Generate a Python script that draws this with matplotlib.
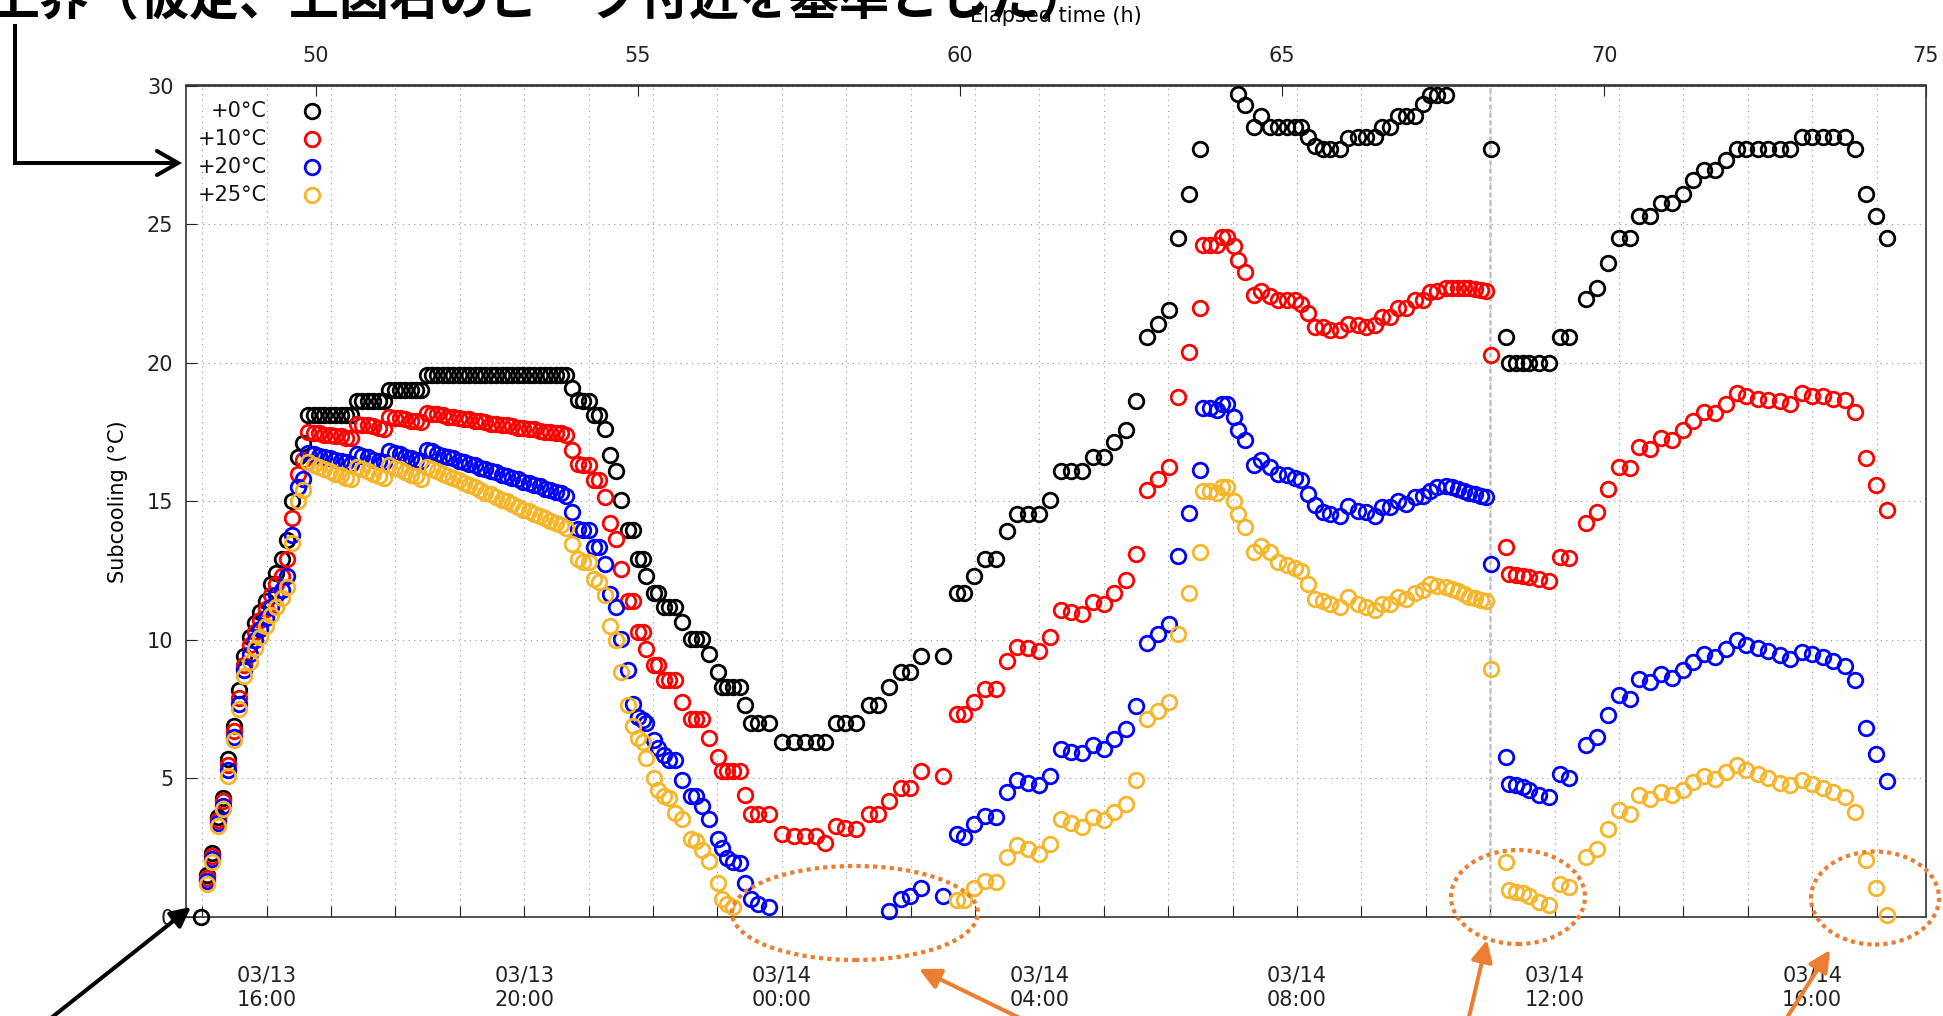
#!/usr/bin/env python3
"""Subcooling vs elapsed time for four temperature offsets (+0/+10/+20/+25 C)."""
import numpy as np
import matplotlib
matplotlib.use("Agg")
import matplotlib.pyplot as plt
from matplotlib.lines import Line2D
from matplotlib.patches import Ellipse, FancyArrowPatch

plt.rcParams["font.family"] = ["DejaVu Sans", "Noto Sans CJK JP"]

W_PX, H_PX, DPI = 1943, 1016, 100

# ---- data -------------------------------------------------------------
# elapsed hours since 03/11 14:46
TIME_H = [
    # ramp
    48.21, 48.30, 48.38, 48.47, 48.55, 48.63, 48.72, 48.80, 48.88, 48.97,
    49.05, 49.13, 49.22, 49.30, 49.38, 49.47, 49.55, 49.63, 49.72, 49.80,
    # plateaus
    49.88, 49.97, 50.05, 50.13, 50.22, 50.30, 50.38, 50.47, 50.55,
    50.63, 50.72, 50.80, 50.88, 50.97, 51.05,
    51.13, 51.22, 51.30, 51.38, 51.47, 51.55, 51.63,
    51.72, 51.80, 51.88, 51.97, 52.05, 52.13, 52.22, 52.30, 52.38, 52.47,
    52.55, 52.63, 52.72, 52.80, 52.88, 52.97, 53.05, 53.13, 53.22, 53.30,
    53.38, 53.47, 53.55, 53.63, 53.72, 53.80, 53.88,
    # decline
    53.97, 54.07, 54.15, 54.24, 54.32, 54.40, 54.49, 54.57, 54.65, 54.74,
    54.84, 54.92, 55.00, 55.07, 55.13, 55.24, 55.31, 55.41, 55.48, 55.58,
    55.69, 55.82, 55.90, 56.00, 56.10, 56.24, 56.31, 56.38, 56.48, 56.59,
    56.66, 56.76, 56.86, 57.04,
    # minimum
    57.24, 57.42, 57.59, 57.76, 57.90, 58.07, 58.21, 58.39, 58.59, 58.73,
    58.90, 59.08, 59.22, 59.39, 59.74,
    # recovery
    59.96, 60.06, 60.22, 60.39, 60.56, 60.73, 60.89, 61.05, 61.22, 61.40,
    61.56, 61.72, 61.89, 62.06, 62.23, 62.39, 62.57, 62.74, 62.90, 63.07,
    63.24, 63.39, 63.56, 63.73,
    # peak
    63.78, 63.88, 63.99, 64.07, 64.14, 64.25, 64.32, 64.43, 64.56, 64.68,
    64.81, 64.94, 65.07, 65.20, 65.30, 65.41, 65.51, 65.64, 65.74, 65.90,
    66.03, 66.18, 66.31, 66.44, 66.55, 66.67, 66.80, 66.93, 67.06, 67.19,
    67.30, 67.40, 67.55, 67.64, 67.73, 67.82, 67.91, 68.00, 68.09, 68.17,
    68.25,
    # after 03/14 11:00
    68.48, 68.53, 68.63, 68.74, 68.84, 68.99, 69.14, 69.31, 69.46, 69.72,
    69.89, 70.06, 70.23, 70.40, 70.55, 70.72, 70.89, 71.05, 71.23, 71.38,
    71.56, 71.73, 71.90, 72.06, 72.21, 72.39, 72.55, 72.73, 72.89, 73.07,
    73.23, 73.40, 73.56, 73.74, 73.90, 74.07, 74.23, 74.40,
]

SUB_0C = [
    0.0, 1.5, 2.3, 3.6, 4.3, 5.7, 6.9, 8.2, 9.4, 10.1,
    10.6, 11.0, 11.4, 12.0, 12.4, 12.9, 13.6, 15.0, 16.6, 17.1,
    18.1, 18.1, 18.1, 18.1, 18.1, 18.1, 18.1, 18.1, 18.1,
    18.6, 18.6, 18.6, 18.6, 18.6, 18.6,
    19.0, 19.0, 19.0, 19.0, 19.0, 19.0, 19.0,
    19.55, 19.55, 19.55, 19.55, 19.55, 19.55, 19.55, 19.55, 19.55, 19.55,
    19.55, 19.55, 19.55, 19.55, 19.55, 19.55, 19.55, 19.55, 19.55, 19.55,
    19.55, 19.55, 19.55, 19.55, 19.55, 19.55, 19.55,
    19.07, 18.65, 18.6, 18.6, 18.1, 18.1, 17.6, 16.66, 16.1, 15.04,
    13.95, 13.95, 12.93, 12.93, 12.3, 11.7, 11.7, 11.17, 11.17, 11.17,
    10.63, 10.04, 10.04, 10.04, 9.5, 8.84, 8.3, 8.3, 8.3, 8.3,
    7.64, 7.0, 7.0, 7.0,
    6.33, 6.33, 6.33, 6.33, 6.33, 6.99, 6.99, 6.99, 7.64, 7.64,
    8.3, 8.84, 8.84, 9.4, 9.4,
    11.7, 11.7, 12.3, 12.9, 12.9, 13.94, 14.54, 14.54, 14.54, 15.04,
    16.1, 16.1, 16.1, 16.6, 16.6, 17.14, 17.56, 18.6, 20.93, 21.4,
    21.9, 24.5, 26.1, 27.7,
    None, None, None, None, None, None, 29.7, 29.3, 28.5, 28.9,
    28.5, 28.5, 28.5, 28.5, 28.5, 28.15, 27.8, 27.7, 27.7, 27.7,
    28.1, 28.15, 28.15, 28.15, 28.5, 28.5, 28.9, 28.9, 28.9, 29.35,
    29.66, 29.66, 29.66, None, None, None, None, None, None, None,
    27.7,
    20.93, 20.0, 20.0, 20.0, 20.0, 20.0, 20.0, 20.93, 20.93, 22.3,
    22.7, 23.6, 24.5, 24.5, 25.3, 25.3, 25.75, 25.75, 26.1, 26.6,
    26.95, 26.95, 27.3, 27.7, 27.7, 27.7, 27.7, 27.7, 27.7, 28.15,
    28.15, 28.15, 28.15, 28.15, 27.7, 26.1, 25.3, 24.5,
]

SUB_10C = [
    None, 1.4, 2.2, 3.5, 4.2, 5.5, 6.7, 7.9, 9.1, 9.8,
    10.3, 10.7, 11.1, 11.6, 12.0, 12.3, 12.9, 14.4, 16.0, 16.5,
    17.5, 17.45, 17.45, 17.4, 17.4, 17.35, 17.35, 17.3, 17.3,
    17.8, 17.75, 17.75, 17.7, 17.65, 17.6,
    18.05, 18.0, 18.0, 17.95, 17.9, 17.9, 17.85,
    18.2, 18.15, 18.15, 18.1, 18.05, 18.05, 18.0, 17.95, 17.95, 17.9,
    17.9, 17.85, 17.8, 17.8, 17.75, 17.75, 17.7, 17.65, 17.65, 17.6,
    17.6, 17.55, 17.5, 17.5, 17.45, 17.45, 17.4,
    16.84, 16.36, 16.3, 16.3, 15.76, 15.76, 15.16, 14.2, 13.65, 12.57,
    11.4, 11.4, 10.28, 10.28, 9.68, 9.08, 9.08, 8.54, 8.54, 8.54,
    7.76, 7.16, 7.16, 7.16, 6.45, 5.79, 5.25, 5.25, 5.25, 5.25,
    4.41, 3.7, 3.7, 3.7,
    2.98, 2.92, 2.92, 2.92, 2.68, 3.28, 3.22, 3.16, 3.7, 3.7,
    4.17, 4.65, 4.65, 5.25, 5.07,
    7.34, 7.34, 7.76, 8.24, 8.24, 9.25, 9.73, 9.7, 9.6, 10.1,
    11.06, 11.0, 10.94, 11.36, 11.3, 11.7, 12.16, 13.1, 15.42, 15.8,
    16.24, 18.77, 20.4, 21.96,
    24.24, 24.24, 24.24, 24.54, 24.54, 24.2, 23.7, 23.28, 22.44, 22.6,
    22.4, 22.26, 22.26, 22.26, 22.1, 21.78, 21.3, 21.3, 21.17, 21.17,
    21.4, 21.35, 21.3, 21.35, 21.65, 21.65, 21.96, 21.96, 22.26, 22.26,
    22.56, 22.6, 22.7, 22.7, 22.7, 22.68, 22.68, 22.65, 22.62, 22.6,
    20.27,
    13.34, 12.38, 12.35, 12.3, 12.25, 12.2, 12.14, 13.0, 12.96, 14.2,
    14.6, 15.44, 16.25, 16.2, 16.96, 16.9, 17.3, 17.2, 17.56, 17.9,
    18.23, 18.17, 18.5, 18.9, 18.8, 18.7, 18.65, 18.6, 18.5, 18.9,
    18.8, 18.8, 18.7, 18.65, 18.23, 16.55, 15.6, 14.7,
]

SUB_20C = [
    None, 1.3, 2.1, 3.4, 4.0, 5.3, 6.5, 7.7, 8.9, 9.5,
    10.0, 10.4, 10.8, 11.2, 11.6, 11.8, 12.3, 13.8, 15.5, 15.8,
    16.75, 16.7, 16.65, 16.6, 16.55, 16.5, 16.45, 16.4, 16.35,
    16.7, 16.65, 16.6, 16.5, 16.45, 16.4,
    16.8, 16.75, 16.7, 16.6, 16.55, 16.5, 16.45,
    16.85, 16.8, 16.7, 16.65, 16.6, 16.55, 16.45, 16.4, 16.35, 16.3,
    16.2, 16.15, 16.1, 16.05, 15.95, 15.9, 15.85, 15.8, 15.7, 15.65,
    15.6, 15.55, 15.45, 15.4, 15.35, 15.3, 15.2,
    14.6, 14.0, 13.95, 13.95, 13.35, 13.35, 12.75, 11.66, 11.18, 10.04,
    8.9, 7.7, 7.2, 7.1, 6.99, 6.39, 6.1, 5.85, 5.67, 5.67,
    4.95, 4.35, 4.35, 4.0, 3.52, 2.8, 2.5, 2.14, 2.0, 1.96,
    1.24, 0.65, 0.47, 0.35,
    None, None, None, None, None, None, None, None, None, None,
    0.23, 0.65, 0.77, 1.06, 0.77,
    3.0, 2.9, 3.34, 3.64, 3.6, 4.5, 4.93, 4.85, 4.76, 5.1,
    6.07, 5.95, 5.9, 6.2, 6.07, 6.43, 6.8, 7.63, 9.88, 10.2,
    10.58, 13.04, 14.58, 16.12,
    18.35, 18.35, 18.3, 18.5, 18.5, 18.05, 17.56, 17.2, 16.3, 16.48,
    16.25, 16.0, 15.95, 15.85, 15.75, 15.27, 14.85, 14.6, 14.55, 14.48,
    14.84, 14.66, 14.6, 14.48, 14.78, 14.78, 15.0, 14.9, 15.14, 15.2,
    15.38, 15.5, 15.55, 15.5, 15.45, 15.38, 15.3, 15.25, 15.2, 15.15,
    12.74,
    5.77, 4.8, 4.75, 4.7, 4.6, 4.4, 4.33, 5.17, 5.02, 6.19,
    6.49, 7.27, 8.0, 7.87, 8.6, 8.47, 8.77, 8.63, 8.9, 9.2,
    9.5, 9.37, 9.68, 9.98, 9.83, 9.7, 9.6, 9.45, 9.3, 9.55,
    9.5, 9.38, 9.25, 9.07, 8.56, 6.83, 5.87, 4.9,
]

SUB_25C = [
    None, 1.2, 2.0, 3.3, 3.9, 5.1, 6.4, 7.5, 8.7, 9.2,
    9.7, 10.1, 10.5, 10.9, 11.2, 11.5, 11.9, 13.5, 15.0, 15.4,
    16.4, 16.3, 16.25, 16.15, 16.1, 16.0, 15.95, 15.85, 15.8,
    16.25, 16.15, 16.1, 16.0, 15.9, 15.85,
    16.3, 16.2, 16.15, 16.05, 15.95, 15.9, 15.8,
    16.25, 16.15, 16.1, 16.0, 15.9, 15.85, 15.75, 15.65, 15.6, 15.5,
    15.4, 15.3, 15.25, 15.15, 15.05, 15.0, 14.9, 14.8, 14.7, 14.65,
    14.55, 14.45, 14.4, 14.3, 14.2, 14.15, 14.05,
    13.47, 12.93, 12.8, 12.8, 12.2, 12.1, 11.6, 10.5, 10.0, 8.84,
    7.64, 6.9, 6.45, 6.3, 5.73, 5.0, 4.6, 4.35, 4.3, 3.76,
    3.52, 2.8, 2.75, 2.4, 2.02, 1.24, 0.65, 0.47, 0.35, None,
    None, None, None, None,
    None, None, None, None, None, None, None, None, None, None,
    None, None, None, None, None,
    0.6, 0.6, 1.06, 1.3, 1.26, 2.16, 2.58, 2.45, 2.28, 2.64,
    3.55, 3.4, 3.25, 3.6, 3.49, 3.79, 4.09, 4.93, 7.15, 7.45,
    7.75, 10.22, 11.7, 13.16,
    15.38, 15.38, 15.3, 15.5, 15.5, 15.0, 14.54, 14.06, 13.16, 13.4,
    13.16, 12.8, 12.7, 12.6, 12.5, 12.0, 11.48, 11.4, 11.3, 11.18,
    11.54, 11.3, 11.18, 11.06, 11.3, 11.3, 11.54, 11.48, 11.7, 11.8,
    12.0, 11.95, 11.9, 11.85, 11.75, 11.65, 11.55, 11.5, 11.45, 11.4,
    8.95,
    1.98, 0.96, 0.9, 0.85, 0.75, 0.54, 0.42, 1.2, 1.08, 2.16,
    2.46, 3.18, 3.85, 3.73, 4.39, 4.27, 4.5, 4.39, 4.6, 4.87,
    5.1, 4.99, 5.23, 5.47, 5.3, 5.15, 5.0, 4.85, 4.75, 4.93,
    4.8, 4.65, 4.5, 4.33, 3.79, 2.04, 1.06, 0.06,
]

SERIES_LABELS = ["+0°C", "+10°C", "+20°C", "+25°C"]
COLORS = ["#000000", "#ff0000", "#0000ff", "#f7b52a"]

CLOCK0 = 49.233          # elapsed hours at 03/13 16:00
CLOCK_LABELS = ["03/13\n16:00", "03/13\n20:00", "03/14\n00:00", "03/14\n04:00",
                "03/14\n08:00", "03/14\n12:00", "03/14\n16:00"]
EVENT_T = 68.233         # 03/14 11:00
ELAPSED_TICKS = [50, 55, 60, 65, 70, 75]
Y_TICKS = [0, 5, 10, 15, 20, 25, 30]

NOTE_JA = "上界（仮定、上図右のピーク付近を基準とした）"
ORANGE = "#ED7D31"

MS, MEW = 10.5, 2.0


def P(x, y):
    """pixel (from top-left) -> figure fraction"""
    return x / W_PX, 1 - y / H_PX


def main():
    t = np.array(TIME_H, dtype=float)
    series = [np.array(s, dtype=float) for s in (SUB_0C, SUB_10C, SUB_20C, SUB_25C)]
    for s in series:
        assert len(s) == len(t), (len(s), len(t))

    fig = plt.figure(figsize=(W_PX / DPI, H_PX / DPI), dpi=DPI)
    fig.patch.set_facecolor("white")
    ax = fig.add_axes([186 / W_PX, 1 - 917 / H_PX, (1926 - 186) / W_PX, (917 - 85.5) / H_PX])

    ax.set_xlim(47.98, 75)
    ax.set_ylim(0, 30)

    # bottom axis: wall clock, a tick every hour, label every 4 h
    hours = [CLOCK0 - 1 + k for k in range(27)]
    labels = [""] * len(hours)
    for i, lab in enumerate(CLOCK_LABELS):
        labels[1 + 4 * i] = lab
    ax.set_xticks(hours)
    ax.set_xticklabels(labels, fontsize=15)
    for lab in ax.get_xticklabels():
        lab.set_linespacing(1.3)
    ax.tick_params(axis="x", direction="in", length=8, width=0.8, pad=35, colors="#222222")

    ax.set_yticks(Y_TICKS)
    ax.tick_params(axis="y", direction="in", length=8, width=0.8, pad=9, labelsize=15, colors="#222222")

    ax.grid(True, linestyle=(0, (1, 4)), color="#9a9a9a", linewidth=0.8)
    ax.set_axisbelow(True)

    top = ax.secondary_xaxis("top")
    top.set_xticks(ELAPSED_TICKS)
    top.tick_params(direction="in", length=8, width=0.8, pad=14, labelsize=15, colors="#222222")
    for sp in list(ax.spines.values()) + [top.spines["top"]]:
        sp.set_color("#333333")
        sp.set_linewidth(1.2)

    ax.axvline(EVENT_T, color="#c0c0c0", linewidth=1.8, linestyle=(0, (2, 1.2)), zorder=1)

    for s, c in zip(series, COLORS):
        ax.plot(t, s, linestyle="none", marker="o", markerfacecolor="none",
                markeredgecolor=c, markersize=MS, markeredgewidth=MEW,
                clip_on=False, zorder=3)

    # key, gnuplot style: text right-aligned, symbol on its right
    for i, (lab, c) in enumerate(zip(SERIES_LABELS, COLORS)):
        y = 0.969 - i * 0.0337
        ax.text(0.0466, y, lab, transform=ax.transAxes, ha="right", va="center",
                fontsize=15, color="#111111")
        ax.plot([0.0725], [y], transform=ax.transAxes, linestyle="none", marker="o",
                markerfacecolor="none", markeredgecolor=c, markersize=MS,
                markeredgewidth=MEW, clip_on=False)

    fig.text(*P(1056, 16), "Elapsed time (h)", ha="center", va="center", fontsize=15)
    fig.text(*P(118, 502), "Subcooling (°C)", rotation=90, ha="center", va="center",
             fontsize=15)

    # slide overlay: note (cut at the top), arrows and highlight ellipses
    fig.text(*P(-10, 15), NOTE_JA, ha="left", va="baseline", fontsize=36,
             fontweight="bold", family=["Noto Sans CJK JP", "DejaVu Sans"], zorder=5)

    xs, ys = zip(P(15, 26), P(15, 163), P(174, 163))
    fig.add_artist(Line2D(xs, ys, transform=fig.transFigure, color="black",
                          linewidth=2.9, solid_joinstyle="miter"))
    xs, ys = zip(P(157, 151), P(178, 163), P(157, 175))
    fig.add_artist(Line2D(xs, ys, transform=fig.transFigure, color="black",
                          linewidth=2.9, solid_joinstyle="miter", solid_capstyle="round"))

    fig.add_artist(FancyArrowPatch(P(46, 1022), P(191, 907), transform=fig.transFigure,
                                   arrowstyle="-|>", mutation_scale=30, linewidth=2.9,
                                   color="black", shrinkA=0, shrinkB=0))

    for (cx, cy, w, h) in [(855, 913, 246, 94), (1518, 897, 134, 94), (1875, 898, 128, 93)]:
        fig.add_artist(Ellipse(P(cx, cy), w / W_PX, h / H_PX, transform=fig.transFigure,
                               fill=False, edgecolor=ORANGE, linewidth=3,
                               linestyle=(0, (1, 1)), zorder=4))

    for tail, tip in [((1030, 1023), (919, 969)), ((1466, 1030), (1487, 940)),
                      ((1779, 1030), (1830, 950))]:
        fig.add_artist(FancyArrowPatch(P(*tail), P(*tip), transform=fig.transFigure,
                                       arrowstyle="-|>", mutation_scale=32, linewidth=2.9,
                                       color=ORANGE, shrinkA=0, shrinkB=0, zorder=4))

    fig.savefig("out.png", dpi=DPI, facecolor="white")
    plt.close(fig)


if __name__ == "__main__":
    main()
